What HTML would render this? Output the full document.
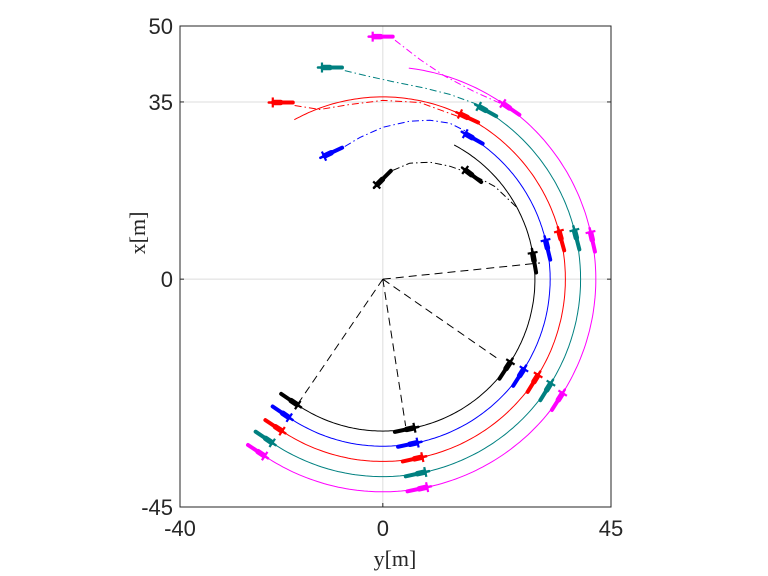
<!DOCTYPE html>
<html><head><meta charset="utf-8"><style>
html,body{margin:0;padding:0;background:#fff;}
svg{display:block;}
.sans{font-family:"Liberation Sans",sans-serif;}
.serif{font-family:"Liberation Serif",serif;}
</style></head><body>
<svg id="chart" width="768" height="576" viewBox="0 0 768 576" xmlns="http://www.w3.org/2000/svg">
<rect width="768" height="576" fill="#fff"/>
<g id="grid"></g>
<g id="series"></g>
<g id="axes"></g>
<text class="serif" x="395" y="566" font-size="22" fill="#262626" text-anchor="middle">y[m]</text>
<text class="serif" transform="translate(145,233) rotate(-90)" font-size="22" fill="#262626" text-anchor="middle">x[m]</text>
</svg>
<script>
const xTicks=[-40,0,45];
const yTicks=[-45,0,35,50];
const colors=['#000000','#0000ff','#ff0000','#008080','#ff00ff'];
const names=['black','blue','red','teal','magenta'];
const radii=[30,33,36,39,42];
const arcStart=[-124,-124,-124,-124,-124];
const arcEnd=[62,60,119,61,83.5];
const markerAngles=[[-124,-78,-33,10,53],[-124,-78,-32.5,13.5,60.5],[-123.5,-77.5,-31.7,15.3,65],[-124,-77.6,-31.8,14.4,61],[-123.7,-78,-32.4,12.8,55.7]];
const markerRadii=[[30,30,30,30,27],[33,33,33,33,33],[36,36,36,36,36],[39,39,39,39,39],[42,42,42,42,42]];
const finalX=[-1.2,-11.6,-21.7,-12,-2];
const finalY=[18.6,24.3,34.9,41.8,47.9];
const finalHeading=[225,205,180,180,180];
const dashX=[[2,5.3,9.3,13.2,17.2,22.1,26.4],[-7.5,-4.5,0,5.3,9.3,13.2,16.4],[-17.4,-12.4,-6.5,0,7.3,15.2],[-7.5,-3,2,8,13.2,18.7],[2.4,7.3,12.2,18.1,23.7]];
const dashY=[[21.5,22.9,23.1,22.3,20.9,18.3,14.2],[26.2,28,30,31.2,31.4,30.8,29.2],[34.3,33.5,34.5,35.3,34.9,32.0],[41.2,40.1,39.0,37.8,36.5,34.5],[47.2,43.4,40.1,37.0,34.5]];
const radialX=[-16.8,4.5,22.5,31];
const radialY=[-24.7,-29.0,-15.6,3.2];

const xMin=-40,xMax=45,yMin=-45,yMax=50;
const L=180,R=611,T=26,B=507;
const sx=v=>L+(v-xMin)/(xMax-xMin)*(R-L);
const sy=v=>B-(v-yMin)/(yMax-yMin)*(B-T);
const NS='http://www.w3.org/2000/svg';
function mk(tag,attrs,parent){const e=document.createElementNS(NS,tag);for(const k in attrs)e.setAttribute(k,attrs[k]);parent.appendChild(e);return e;}
const grid=document.getElementById('grid'),axes=document.getElementById('axes'),ser=document.getElementById('series');

xTicks.forEach(t=>{
 if(t!==xMin&&t!==xMax){const g=mk('line',{x1:sx(t),x2:sx(t),y1:T,y2:B,stroke:'#dcdcdc','stroke-width':1},grid);
 
 }
 const tk=mk('line',{x1:sx(t),x2:sx(t),y1:B,y2:B-4,stroke:'#262626','stroke-width':1},axes);
 
 
 const lb=mk('text',{class:'sans',x:sx(t),y:B+29,'font-size':22,fill:'#262626','text-anchor':'middle'},axes);lb.textContent=t;
 
 
});
yTicks.forEach(t=>{
 if(t!==yMin&&t!==yMax){const g=mk('line',{x1:L,x2:R,y1:sy(t),y2:sy(t),stroke:'#dcdcdc','stroke-width':1},grid);
 
 }
 const tk=mk('line',{x1:L,x2:L+4,y1:sy(t),y2:sy(t),stroke:'#262626','stroke-width':1},axes);
 
 
 const tk2=mk('line',{x1:R,x2:R-4,y1:sy(t),y2:sy(t),stroke:'#262626','stroke-width':1},axes);
 
 
 const lb=mk('text',{class:'sans',x:L-7,y:sy(t)+8,'font-size':22,fill:'#262626','text-anchor':'end'},axes);lb.textContent=t;
 
 
});
const frame=mk('rect',{x:L,y:T,width:R-L,height:B-T,fill:'none',stroke:'#262626','stroke-width':1},axes);



radialX.forEach((x,i)=>{
 const l=mk('line',{x1:sx(0),y1:sy(0),x2:sx(x),y2:sy(radialY[i]),stroke:'#000','stroke-width':1,'stroke-dasharray':'8,5'},ser);
 
 
});

function marker(px,py,hd,color){
 const a=hd*Math.PI/180,dx=Math.cos(a),dy=-Math.sin(a);
 const g=mk('g',{},ser);
 
 
 mk('line',{x1:px-dx*20,y1:py-dy*20,x2:px-dx*4,y2:py-dy*4,stroke:color,'stroke-width':4,'stroke-linecap':'round'},g);
 mk('line',{x1:px-dx*8,y1:py-dy*8,x2:px-dx*1,y2:py-dy*1,stroke:color,'stroke-width':5.5,'stroke-linecap':'round'},g);
 mk('line',{x1:px,y1:py,x2:px+dx*4,y2:py+dy*4,stroke:color,'stroke-width':2.5,'stroke-linecap':'round'},g);
 mk('line',{x1:px-dy*5,y1:py+dx*5,x2:px+dy*5,y2:py-dx*5,stroke:color,'stroke-width':2.2},g);
}

radii.forEach((r,i)=>{
 const c=colors[i];
 let d='';
 for(let a=arcStart[i];a<=arcEnd[i]+0.01;a+=1){const t=a*Math.PI/180;d+=(d?'L':'M')+sx(r*Math.cos(t)).toFixed(1)+','+sy(r*Math.sin(t)).toFixed(1);}
 const p=mk('path',{d:d,fill:'none',stroke:c,'stroke-width':1},ser);
 
 
 let dd='';
 dashX[i].forEach((x,j)=>{dd+=(j?'L':'M')+sx(x).toFixed(1)+','+sy(dashY[i][j]).toFixed(1);});
 const q=mk('path',{d:dd,fill:'none',stroke:c,'stroke-width':1,'stroke-dasharray':'7,3,1.5,3'},ser);
 
 
 markerAngles[i].forEach((a,j)=>{const t=a*Math.PI/180,mr=markerRadii[i][j];marker(sx(mr*Math.cos(t)),sy(mr*Math.sin(t)),a+90,c);});
 marker(sx(finalX[i]),sy(finalY[i]),finalHeading[i],c);
});
</script>
</body></html>
